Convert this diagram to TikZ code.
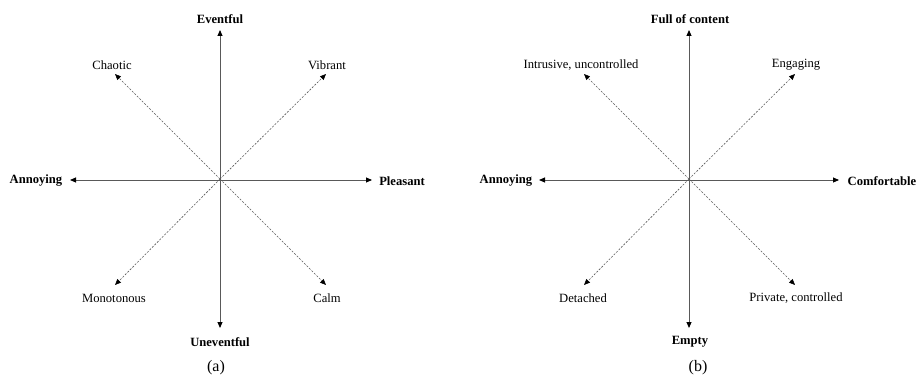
\documentclass[tikz,border=0pt]{standalone}
\usepackage{fontspec}
\setmainfont{Liberation Serif}
\usetikzlibrary{arrows.meta}
\begin{document}
\begin{tikzpicture}[x=1pt,y=-1pt,
  axis/.style={draw=black!65,line width=0.9pt,{Triangle[length=6pt,width=5pt,color=black]}-{Triangle[length=6pt,width=5pt,color=black]}},
  diag/.style={draw=black!65,line width=0.6pt,dash pattern=on 2pt off 1.5pt,-{Triangle[length=6pt,width=5pt,color=black]}},
  lbl/.style={font=\fontsize{12.6}{15}\selectfont,inner sep=0pt},
  blbl/.style={lbl,font=\fontsize{12.6}{15}\selectfont\bfseries},
  captxt/.style={font=\fontsize{16}{19}\selectfont,inner sep=0pt}]
\useasboundingbox (0,0) rectangle (917,377);
% ---- (a)
\coordinate (ca) at (220,179);
\coordinate (aT) at (220,30);
\coordinate (aB) at (220,328);
\coordinate (aL) at (70,180);
\coordinate (aR) at (372,180);
\coordinate (aNW) at (115,74);
\coordinate (aNE) at (326,74);
\coordinate (aSW) at (115,285);
\coordinate (aSE) at (326,285);
\draw[axis] (aB) -- (aT);
\draw[axis] (aL) -- (aR);
\draw[diag] (ca) -- (aNW);
\draw[diag] (ca) -- (aNE);
\draw[diag] (ca) -- (aSW);
\draw[diag] (ca) -- (aSE);
\node[blbl] (ev) at (220,19) {Eventful};
\node[blbl] (unev) at (220,342) {Uneventful};
\node[blbl] (ann1) at (36,181) {Annoying};
\node[blbl] (pl) at (402,181) {Pleasant};
\node[lbl] (cha) at (112,65) {Chaotic};
\node[lbl] (vib) at (327,65) {Vibrant};
\node[lbl] (mon) at (114,298) {Monotonous};
\node[lbl] (calm) at (327,298) {Calm};
\node[captxt] (capa) at (216,368) {(a)};
% ---- (b)
\coordinate (cb) at (689,179);
\coordinate (bT) at (689,30);
\coordinate (bB) at (689,328);
\coordinate (bL) at (539,180);
\coordinate (bR) at (839,180);
\coordinate (bNW) at (584,74);
\coordinate (bNE) at (795,74);
\coordinate (bSW) at (584,285);
\coordinate (bSE) at (795,285);
\draw[axis] (bB) -- (bT);
\draw[axis] (bL) -- (bR);
\draw[diag] (cb) -- (bNW);
\draw[diag] (cb) -- (bNE);
\draw[diag] (cb) -- (bSW);
\draw[diag] (cb) -- (bSE);
\node[blbl] (full) at (690,19) {Full of content};
\node[blbl] (empty) at (690,342) {Empty};
\node[blbl] (ann2) at (506,181) {Annoying};
\node[blbl] (comf) at (882,181) {Comfortable};
\node[lbl] (intr) at (581,65) {Intrusive, uncontrolled};
\node[lbl] (eng) at (796,65) {Engaging};
\node[lbl] (det) at (583,298) {Detached};
\node[lbl] (priv) at (796,298) {Private, controlled};
\node[captxt] (capb) at (698,368) {(b)};
\end{tikzpicture}
\end{document}
